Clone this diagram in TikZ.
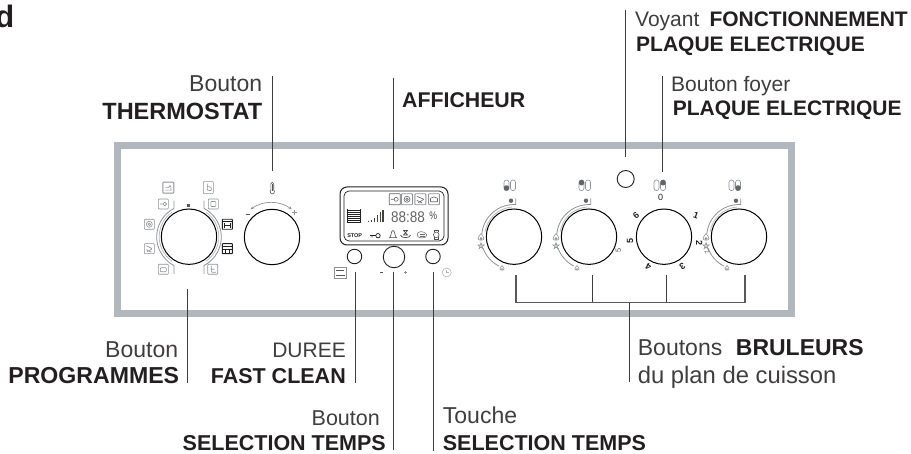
\documentclass[tikz,border=0pt]{standalone}
\usepackage{fontspec}
\usetikzlibrary{arrows.meta}
\setmainfont{Liberation Sans}
\definecolor{panelc}{HTML}{B0B7BD}
\definecolor{leadc}{HTML}{3C3C3C}
\definecolor{inkc}{HTML}{231F20}
\definecolor{regc}{HTML}{3F3D3E}
\definecolor{icc}{HTML}{8C9196}
\tikzset{
  reg/.style={inner sep=0pt,text=regc,font=\fontsize{#1}{24}\selectfont},
  bld/.style={inner sep=0pt,text=inkc,font=\fontsize{#1}{24}\selectfont\bfseries},
  leader/.style={draw=leadc,line width=0.9pt},
  knob/.style={circle,draw=black,line width=1pt,minimum size=55.4pt,inner sep=0pt},
  btn/.style={circle,draw=inkc,line width=0.9pt,inner sep=0pt},
  ringo/.style={draw=icc,line width=0.8pt},
  ic/.style={draw=icc,line width=0.6pt,rounded corners=0.8pt},
  icd/.style={draw=inkc,line width=0.6pt,rounded corners=0.4pt},
  num/.style={inner sep=0pt,text=inkc,font=\fontsize{9}{10}\selectfont\bfseries},
  tiny/.style={inner sep=0pt,text=inkc,font=\fontsize{5.5}{7}\selectfont\bfseries},
}
\newcommand{\icoat}[3]{\begin{scope}[shift={(#1,#2)}]#3\end{scope}}
\newcommand{\flameat}[3]{\begin{scope}[shift={(#1,#2)},scale=#3]
  \draw[draw=icc,line width=0.6pt] (0,-4) .. controls (1,-2) and (3,-1) .. (3,1.2) .. controls (3,3.2) and (-3,3.2) .. (-3,1.2) .. controls (-3,-1) and (-1,-2) .. (0,-4);
  \fill[icc] (0,1.2) circle[radius=1.5pt];
\end{scope}}
\newcommand{\starat}[2]{\draw[draw=icc,line width=0.5pt,shift={(#1,#2)}] (0,-3.5) -- (2.06,2.83) -- (-3.33,-1.08) -- (3.33,-1.08) -- (-2.06,2.83) -- cycle;}
\newcommand{\caps}[3]{% x, y of the pair: #1 knob centre x, #2 fill x offset, #3 fill y-start
  \foreach \cx in {-7.5,-1}{\draw[draw=icc,line width=0.6pt,rounded corners=2.4pt] ({#1+\cx-2.5},180) rectangle ({#1+\cx+2.5},190.6);}
  \fill[draw=none,fill=icc!70!black,rounded corners=2pt] ({#1+#2-2.5},#3) rectangle ({#1+#2+2.5},{#3+5.3});
}
\newcommand{\burnerarcs}[1]{
  \draw[ringo] (#1+1.7,198.3) -- (#1+1.7,204.6) arc[start angle=87,end angle=175,radius=32.3pt];
  \draw[ringo,draw=icc!60] (#1-2,207) arc[start angle=95,end angle=170,radius=30pt];
  \draw[ringo] (#1-31,248) arc[start angle=199.5,end angle=243,radius=32.3pt];
  \fill[icc!70!black] (#1-3,200.7) circle[radius=2.2pt];
  \flameat{#1-33}{237.5}{1}
  \starat{#1-33}{246}
  \flameat{#1-12}{268.3}{0.7}
}
\begin{document}
\begin{tikzpicture}[x=1pt,y=-1pt]
\useasboundingbox (0,0) rectangle (911,454);
% panel
\draw[draw=panelc,line width=7pt] (117.6,145.1) rectangle (791.2,313.3);

% leader ends
\coordinate (tA) at (272,76);   \coordinate (tB) at (272,171);
\coordinate (aA) at (393,78);   \coordinate (aB) at (393,169);
\coordinate (vA) at (625,10);   \coordinate (vB) at (625,157);
\coordinate (fA) at (662.7,76); \coordinate (fB) at (662.7,171.7);
\coordinate (pA) at (187,289);  \coordinate (pB) at (187,383.5);
\coordinate (cA) at (355,271.7);\coordinate (cB) at (355,383.5);
\coordinate (sA) at (393.5,271.7);\coordinate (sB) at (393.5,450);
\coordinate (uA) at (433.7,271.7);\coordinate (uB) at (433.7,451);
\coordinate (b1) at (516,275);  \coordinate (b1b) at (516,302.7);
\coordinate (b2) at (592.3,275);\coordinate (b2b) at (592.3,302.7);
\coordinate (b3) at (666.7,275);\coordinate (b3b) at (666.7,302.7);
\coordinate (b4) at (745,275);  \coordinate (b4b) at (745,302.7);
\coordinate (bm) at (629.3,302.7);\coordinate (bn) at (629.3,381.7);

\foreach \a/\b in {tA/tB,aA/aB,vA/vB,fA/fB,pA/pB,cA/cB,sA/sB,uA/uB,b2/b2b,b3/b3b,bm/bn}{\draw[leader] (\a) -- (\b);}
\draw[leader,line width=1.1pt,draw=leadc!85] (b1) -- (b1b) -- (b4b) -- (b4);

% knobs
\node[knob] (kprog) at (189,236.7) {};
\node[knob] (ktherm) at (272,237) {};
\node[knob] (kb1) at (514,236.7) {};
\node[knob] (kb2) at (589,236.7) {};
\node[knob] (kb3) at (664,236.7) {};
\node[knob] (kb4) at (739,236.7) {};
\node[btn,minimum size=17pt] (led) at (625.7,179) {};
\node[btn,minimum size=14.5pt] (bleft) at (354.5,256.5) {};
\node[btn,minimum size=21.5pt] (bmid) at (394,257) {};
\node[btn,minimum size=14.5pt] (bright) at (433,256.5) {};

% programme ring
\draw[ringo] (174,200.7) -- (174,208.4) arc[start angle=117.7,end angle=242.3,radius=32.3pt] -- (174,274);
\draw[ringo] (204,200.7) -- (204,208.4) arc[start angle=62.3,end angle=-62.3,radius=32.3pt] -- (204,274);
\draw[ringo,draw=icc!60] (171.9,212.3) arc[start angle=125,end angle=235,radius=29.8pt];
\draw[ringo,draw=icc!60] (206.1,212.3) arc[start angle=55,end angle=-55,radius=29.8pt];
\fill[icc!60!black] (186.8,203.8) rectangle (189.8,206.8);

% programme icons
\icoat{168.3}{187.7}{\draw[ic,line width=0.9pt] (-5.5,-5.5) rectangle (5.5,5.5); \draw[ic] (-3.5,2.5) -- (3.5,2.5) (2.5,2.5) -- (2.5,-2) -- (1,-2) -- (1,0) -- (-3,0);}
\icoat{208.3}{187.7}{\draw[ic] (-5,-6) rectangle (5,6); \draw[ic] (-1,-4) -- (-1,2.5) -- (3,3) -- (3,-0.5) -- (-1,-1.2);}
\icoat{163.3}{204}{\draw[ic] (-5,-5) rectangle (5,5); \draw[ic] (-3.5,0) -- (0,0) (1.5,0) circle[radius=1.8pt];}
\icoat{213.3}{204}{\draw[ic] (-5,-5) rectangle (5,5); \draw[ic] (-2.5,-2.5) rectangle (2.5,2.5);}
\icoat{149.3}{224.3}{\draw[ic] (-5,-5) rectangle (5,5); \draw[ic] (0,0) circle[radius=3pt] (0,0) circle[radius=1.3pt];}
\icoat{149.3}{248.7}{\draw[ic] (-5,-5) rectangle (5,5); \draw[ic] (-3,-3) -- (3,0) -- (-2,3) (-3,1) -- (2,3.5);}
\icoat{163.3}{269.3}{\draw[ic] (-5,-5) rectangle (5,5); \draw[ic] (-3,2.5) -- (3,2.5) -- (3,-1.5) -- (-3,-1.5) -- cycle;}
\icoat{212.7}{269.3}{\draw[ic] (-5,-5) rectangle (5,5); \draw[ic] (-1.5,-3.5) -- (-1.5,3) -- (3.5,3) (-1.5,0) -- (2,0);}
\icoat{227.3}{224.3}{\draw[icd,line width=0.9pt] (-5,-5) rectangle (5,5); \draw[icd] (-5,-3) -- (5,-3) (-3,-1) -- (-3,3.5) (3,-1) -- (3,3.5) (-3,1.2) -- (3,1.2);}
\icoat{227.3}{248.7}{\draw[icd,line width=0.9pt] (-5,-5) rectangle (5,5); \draw[icd] (-5,-2.5) -- (5,-2.5) (-5,1) -- (5,1) (-2,1) -- (-2,5) (2,1) -- (2,5);}

% thermostat
\draw[draw=icc,line width=0.7pt,{Stealth[length=3pt,width=3pt]}-{Stealth[length=3pt,width=3pt]}] (250.7,209.3) arc[start angle=126.2,end angle=53.8,radius=34.7pt];
\draw[icc!60!black,line width=0.9pt] (245.5,214) -- (250,214);
\draw[icc,line width=0.9pt] (292.4,212.7) -- (297.4,212.7) (294.9,210.2) -- (294.9,215.2);
\icoat{272.3}{187.7}{\draw[draw=icc!60!black,line width=0.6pt] (-1.4,2.3) -- (-1.4,-4) arc[start angle=180,end angle=0,radius=1.4pt] -- (1.4,2.3) arc[start angle=50,end angle=-230,radius=2.2pt]; \fill[icc!60!black] (-0.6,-3.5) rectangle (0.6,3);}

% display
\draw[draw=inkc,line width=1pt,rounded corners=7pt] (340,187) rectangle (448,245);
\draw[draw=inkc,line width=0.7pt,rounded corners=5pt] (344,191) rectangle (444,241);
\icoat{394.7}{199.3}{\draw[icd,draw=inkc!70] (-5.5,-5.5) rectangle (5.5,5.5); \draw[icd,draw=inkc!70] (-3.8,0) -- (0,0) (1.5,0) circle[radius=2pt];}
\icoat{407}{199.3}{\draw[ic,line width=0.9pt] (-5.5,-5.5) rectangle (5.5,5.5); \draw[icd,draw=inkc!70] (0,0) circle[radius=3pt] (0,0) circle[radius=1.3pt];}
\icoat{420.3}{199.3}{\draw[ic,line width=0.9pt] (-5.5,-5.5) rectangle (5.5,5.5); \draw[icd,draw=inkc!70] (-3.5,-3) -- (3.5,0) -- (-2,3.5) (-3.5,1) -- (2,3.8);}
\icoat{434}{199.3}{\draw[ic,line width=0.9pt] (-5.5,-5.5) rectangle (5.5,5.5); \draw[icd,draw=inkc!70] (-3.5,2.5) -- (3.5,2.5) -- (3.5,-1) -- (0,-2.5) -- (-3.5,-1) -- cycle;}
% stack of lines
\foreach \yy in {210.5,212.5,214.5,216.5,218.5,220.5,222.5}{\draw[draw=inkc,line width=0.6pt] (347.5,\yy) -- (360.5,\yy);}
\draw[draw=inkc,line width=0.5pt] (347.5,209.5) -- (347.5,223.5) (360.5,209.5) -- (360.5,223.5);
% signal bars
\foreach \xx/\hh in {368.5/1,371.5/2,374.5/4,377.5/7,380.5/10,383/12}{\draw[draw=inkc!85,line width=1.2pt] (\xx,221.7) -- (\xx,221.7-\hh);}
\node[inner sep=0pt,text=inkc!70,font=\fontsize{15.5}{16}\selectfont,anchor=base west] (clock) at (391,222.4) {\scalebox{0.87}[1]{88:88}};
\node[inner sep=0pt,text=inkc!85,font=\fontsize{11}{12}\selectfont,anchor=center] (pct) at (433.3,215.7) {\scalebox{0.8}[1]{\%}};
\node[tiny,anchor=center] (stopl) at (354.7,235.9) {STOP};
% key
\draw[draw=inkc,line width=1pt] (369.5,235.7) -- (376,235.7);
\draw[draw=inkc,line width=0.7pt] (372,235.7) -- (372,237.5) (378,235.7) circle[radius=2.2pt];
% bell
\draw[draw=inkc!80,line width=0.6pt] (389.5,237.7) .. controls (391.5,236) and (391,230.5) .. (393,230.5) .. controls (395,230.5) and (394.5,236) .. (396.5,237.7) -- cycle;
% hourglass
\draw[draw=inkc!80,line width=0.7pt] (403.5,230.5) -- (407.5,230.5) -- (403.5,235) -- (407.5,235) -- cycle;
\draw[draw=inkc!80,line width=0.7pt] (400.5,235) .. controls (400.5,238.5) and (410.5,238.5) .. (410.5,235);
% pot
\draw[draw=inkc!70,line width=0.5pt] (417,235) .. controls (417,231) and (424,230) .. (427,235) .. controls (427,239) and (417,239) .. (417,235);
\draw[draw=inkc!70,line width=0.5pt] (419.5,234.5) -- (424.5,234.5) (419.5,236) -- (424.5,236);
% watch
\draw[draw=inkc!80,line width=0.6pt] (436.3,234.8) circle[radius=2.8pt];
\draw[draw=inkc!80,line width=0.7pt] (434.5,232.2) -- (434.5,230) -- (438.1,230) -- (438.1,232.2) (434.5,237.4) -- (434.5,239) -- (438.1,239) -- (438.1,237.4);
% below the buttons
\icoat{340}{272.7}{\draw[draw=icc,line width=0.7pt] (-6,-5.5) rectangle (6,5.5); \fill[icc!60!black] (-4.5,2.2) rectangle (4.5,3.8); \draw[draw=icc!60!black,line width=0.6pt] (-4,-2.5) -- (4,-2.5);}
\draw[draw=icc!60!black,line width=0.8pt] (380.2,272.5) -- (383.2,272.5);
\draw[draw=icc,line width=0.5pt] (404.2,272.5) -- (407.2,272.5) (405.7,271) -- (405.7,274);
\icoat{446.7}{272.5}{\draw[draw=icc!70,line width=0.6pt] (0,0) circle[radius=4.5pt]; \draw[draw=icc!70,line width=0.5pt] (0,-2.5) -- (0,0) -- (2,0);}

% burners
\burnerarcs{514}
\burnerarcs{589}
\burnerarcs{739}
\caps{514}{-7.5}{185.3}
\caps{589}{-7.5}{180}
\caps{664}{-1}{180}
\caps{739}{-1}{185.3}
\node[inner sep=0pt,text=inkc!80,font=\fontsize{7.5}{8}\selectfont,rotate=90] (n5b) at (618.3,250) {5};
\node[inner sep=0pt,text=inkc!70,font=\fontsize{6.5}{7}\selectfont,rotate=-60] (n2b) at (707.3,251.7) {2};
\node[inner sep=0pt,text=inkc,font=\fontsize{9}{10}\selectfont] (n0) at (660.7,197.7) {0};
\node[num,rotate=-20] (n1) at (696,215.7) {1};
\node[num,rotate=-90] (n2) at (699.3,242.7) {2};
\node[num,rotate=-148] (n3) at (682.3,266) {3};
\node[num,rotate=148] (n4) at (648.3,266.7) {4};
\node[num,rotate=90] (n5) at (630,240.7) {5};
\node[num,rotate=40] (n6) at (636,216) {6};

% texts
\node[bld=31,anchor=base east] (dd) at (14.5,28) {d};
\node[reg=23,anchor=base east] (t1) at (262.3,92) {Bouton};
\node[bld=23.5,anchor=base east] (t2) at (262.3,120) {THERMOSTAT};
\node[bld=21.3,anchor=base west] (t3) at (402,108) {AFFICHEUR};
\node[reg=21,anchor=base west] (t4) at (635,26.7) {Voyant};
\node[bld=21,anchor=base west] (t5) at (709.3,26.7) {FONCTIONNEMENT};
\node[bld=21,anchor=base west] (t6) at (636,51.7) {PLAQUE ELECTRIQUE};
\node[reg=21,anchor=base west] (t7) at (671,91.7) {Bouton foyer};
\node[bld=21,anchor=base west] (t8) at (672.7,116) {PLAQUE ELECTRIQUE};
\node[reg=23,anchor=base east] (t9) at (178.3,357.3) {Bouton};
\node[bld=23.1,anchor=base east] (t10) at (179.3,383.3) {PROGRAMMES};
\node[reg=21,anchor=base east] (t11) at (346,357.3) {DUREE};
\node[bld=21.5,anchor=base east] (t12) at (346,383.3) {FAST CLEAN};
\node[reg=21.5,anchor=base east] (t13) at (380,425) {Bouton};
\node[bld=21.5,anchor=base east] (t14) at (386,450.5) {SELECTION TEMPS};
\node[reg=23,anchor=base west] (t15) at (442.7,423.3) {Touche};
\node[bld=21.5,anchor=base west] (t16) at (442.7,450) {SELECTION TEMPS};
\node[reg=23,anchor=base west] (t17) at (637.7,356) {Boutons};
\node[bld=23,anchor=base west] (t18) at (735.7,356) {BRULEURS};
\node[reg=23.8,anchor=base west] (t19) at (637.7,383.3) {du plan de cuisson};
\end{tikzpicture}
\end{document}
